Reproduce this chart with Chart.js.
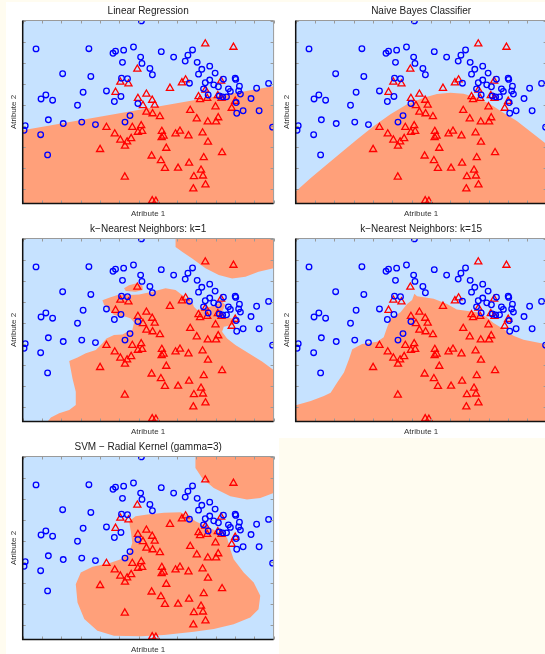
<!DOCTYPE html>
<html>
<head>
<meta charset="utf-8">
<script src="https://cdn.jsdelivr.net/npm/chart.js@4.4.1/dist/chart.umd.min.js"></script>
<style>
  html, body { margin: 0; padding: 0; }
  body { width: 545px; height: 654px; overflow: hidden; position: relative; background: #fffcf0; }
  .tile { position: absolute; width: 273px; height: 218px; background: #ffffff; }
  .tile canvas { display: block; }
</style>
</head>
<body>
<div class="tile" style="left:6px;top:2px"><canvas id="p1" width="273" height="218"></canvas></div>
<div class="tile" style="left:279px;top:2px"><canvas id="p2" width="273" height="218"></canvas></div>
<div class="tile" style="left:6px;top:220px"><canvas id="p3" width="273" height="218"></canvas></div>
<div class="tile" style="left:279px;top:220px"><canvas id="p4" width="273" height="218"></canvas></div>
<div class="tile" style="left:6px;top:438px"><canvas id="p5" width="273" height="218"></canvas></div>
<script>
// ---- observations: [attribute 1, attribute 2] ----
const classCircle = [
  [6.15, 7.98], [0.69, 6.65], [3.43, 6.66], [4.68, 6.44], [4.81, 6.54], [5.23, 6.59],
  [5.74, 6.74], [6.11, 6.26], [6.18, 5.96], [5.17, 6.01], [6.59, 5.72], [6.72, 5.42],
  [2.07, 5.47], [3.53, 5.34], [5.12, 5.26], [5.43, 5.23], [4.34, 4.65], [3.13, 4.59],
  [5.09, 4.39], [1.20, 4.46], [0.95, 4.27], [1.55, 4.21], [2.84, 3.97], [4.75, 4.15],
  [5.97, 4.05], [1.33, 3.28], [5.56, 3.48], [7.18, 6.52], [7.82, 6.26], [8.42, 6.07],
  [8.56, 6.35], [8.80, 6.60], [9.04, 6.01], [9.28, 5.68], [9.11, 5.45], [9.69, 5.83],
  [9.97, 5.50], [10.40, 5.21], [9.46, 5.04], [9.69, 5.17], [8.64, 5.02], [9.90, 4.94],
  [10.14, 4.85], [9.37, 4.75], [11.01, 5.26], [11.04, 5.20], [11.23, 4.88], [10.66, 4.75],
  [10.76, 4.63], [11.19, 4.65], [11.28, 4.50], [12.12, 4.78], [12.74, 5.01], [9.61, 4.46],
  [10.19, 4.41], [10.36, 4.37], [10.56, 4.37], [11.83, 4.29], [11.06, 4.10], [11.09, 3.59],
  [11.42, 3.71], [12.25, 3.71], [0.13, 3.00], [0.07, 2.78], [2.10, 3.10], [3.06, 3.17],
  [3.77, 3.05], [5.30, 3.17], [0.93, 2.57], [1.29, 1.61], [12.95, 2.93]
];
const classTriangle = [
  [9.46, 6.89], [10.92, 6.73], [5.94, 5.69], [5.06, 5.07], [5.48, 4.99], [4.81, 4.59],
  [6.41, 4.50], [5.97, 4.30], [6.71, 4.21], [6.23, 3.96], [6.41, 3.65], [6.73, 3.57],
  [7.11, 3.43], [6.84, 3.98], [7.63, 4.78], [8.25, 5.04], [8.44, 5.18], [9.11, 4.38],
  [9.19, 4.24], [9.47, 4.69], [9.56, 4.30], [10.28, 5.12], [10.11, 4.43], [10.30, 4.30],
  [11.01, 4.16], [8.68, 3.73], [9.99, 3.90], [10.83, 3.83], [9.02, 3.33], [9.59, 3.18],
  [10.02, 3.18], [10.13, 3.38], [4.34, 2.92], [4.77, 2.61], [5.06, 2.32], [5.30, 2.03],
  [5.41, 2.23], [5.62, 2.39], [5.68, 2.92], [6.14, 3.00], [5.97, 2.69], [6.19, 2.73],
  [4.01, 1.87], [6.68, 1.56], [7.21, 2.73], [7.30, 2.51], [7.20, 2.44], [7.92, 2.61],
  [8.15, 2.74], [8.59, 2.52], [9.32, 2.66], [9.60, 2.22], [7.44, 1.93], [7.16, 1.34],
  [7.37, 0.97], [8.05, 0.98], [8.62, 1.22], [9.38, 1.48], [10.33, 1.72], [9.24, 0.89],
  [8.87, 0.58], [9.34, 0.61], [9.47, 0.19], [8.84, 0.00], [5.29, 0.56], [6.71, -0.57],
  [6.90, -0.59]
];

// ---- axis extent and tick positions ----
const xRange = [0, 13];
const yRange = [-0.7, 8];
const xTickValues = [0, 1, 2, 3, 4, 5, 6, 7, 8, 9, 10, 11, 12, 13];
const yTickValues = [0, 1, 2, 3, 4, 5, 6, 7, 8];

// ---- decision regions (areas assigned to the triangle class) ----
const linearRegion = [
  [0, 2.78], [13, 4.88], [13, -0.7], [0, -0.7]
];
const bayesRegion = [
  [0, -0.13], [0.78, 0.51], [1.46, 1.04], [2.33, 1.70], [3.19, 2.35], [4.05, 2.98],
  [4.91, 3.54], [5.77, 4.02], [6.63, 4.33], [7.32, 4.50], [8.01, 4.57], [8.70, 4.52],
  [9.39, 4.33], [10.08, 4.02], [10.76, 3.62], [11.46, 3.22], [12.14, 2.74], [12.92, 2.18],
  [13, 2.15], [13, -0.7], [0, -0.7]
];
const knn1Main = [
  [1.29, -0.70], [1.46, -0.51], [1.89, -0.31], [2.41, -0.15], [2.75, 0.09], [2.75, 0.72],
  [2.58, 1.35], [2.41, 2.18], [2.84, 2.34], [3.27, 2.54], [3.79, 2.70], [4.13, 3.02],
  [4.34, 3.25], [4.73, 3.41], [5.17, 3.44], [5.42, 3.57], [5.68, 3.65], [5.77, 4.01],
  [5.60, 4.20], [5.34, 4.28], [4.99, 4.31], [4.73, 4.36], [4.48, 4.60], [4.22, 4.84],
  [4.13, 5.07], [4.48, 5.18], [4.99, 5.34], [5.51, 5.31], [6.03, 5.34], [6.71, 5.47],
  [7.40, 5.63], [7.92, 5.55], [8.26, 5.31], [8.52, 5.12], [8.78, 4.99], [8.87, 4.76],
  [9.04, 4.60], [9.47, 4.68], [9.99, 4.84], [10.33, 4.99], [10.50, 4.84], [10.33, 4.52],
  [10.50, 4.28], [10.85, 4.20], [11.19, 4.01], [10.85, 3.89], [10.42, 3.81], [10.33, 3.57],
  [10.59, 3.25], [11.02, 2.94], [11.71, 2.54], [12.40, 2.15], [13, 1.75], [13, -0.7]
];
const knn1Island = [
  [5.25, 5.63], [5.51, 5.78], [5.85, 5.86], [6.20, 5.78], [6.23, 5.55], [5.85, 5.47], [5.34, 5.50]
];
const knn1Corner = [
  [7.92, 8], [13, 8], [13, 6.58], [12.22, 6.42], [11.54, 6.18], [10.85, 6.10],
  [10.16, 6.26], [9.47, 6.58], [8.78, 7.05], [8.26, 7.37], [7.92, 7.60]
];
const knn15Region = [
  [0, 0.07], [0.78, 0.27], [1.46, 0.51], [1.81, 0.67], [2.15, 1.15], [2.50, 1.63],
  [2.76, 2.26], [2.93, 2.74], [3.44, 2.98], [4.22, 3.09], [4.56, 3.30], [4.74, 3.78],
  [4.91, 4.18], [5.43, 4.49], [5.77, 4.89], [6.03, 5.08], [6.15, 5.37], [6.29, 5.26],
  [7.15, 5.13], [7.84, 4.89], [8.35, 4.62], [9.39, 4.49], [9.90, 4.26], [10.25, 3.98],
  [10.76, 3.70], [11.28, 3.38], [11.80, 3.19], [12.92, 2.98], [13, 2.97], [13, -0.7], [0, -0.7]
];
const svmMain = [
  [5.51, 4.92], [5.85, 5.16], [6.46, 5.24], [7.32, 5.32], [8.18, 5.35], [8.61, 5.16],
  [8.95, 4.92], [9.47, 4.69], [10.07, 4.45], [10.59, 4.14], [10.76, 3.58], [10.93, 3.11],
  [11.45, 2.48], [11.97, 2.01], [12.31, 1.38], [12.22, 0.74], [11.79, 0.35], [10.93, 0.03],
  [9.90, -0.20], [8.87, -0.33], [7.32, -0.49], [6.11, -0.55], [4.73, -0.52], [3.87, -0.28],
  [3.19, 0.27], [2.84, 1.06], [2.75, 1.93], [3.01, 2.48], [3.62, 2.76], [4.48, 2.92],
  [5.08, 3.11], [5.51, 3.43], [5.68, 3.90], [5.60, 4.45]
];
const svmCorner = [
  [8.95, 8], [13, 8], [13, 6.27], [12.31, 6.03], [11.62, 5.95], [10.76, 6.11],
  [9.90, 6.50], [9.30, 6.97], [8.95, 7.45]
];

// ---- colours ----
const circleColor = '#0000ff';
const triangleColor = '#ff0000';
const otherAreaColor = '#c6e2ff';
const triangleAreaColor = '#ffa07a';
const fontFamily = '"Liberation Sans", Arial, Helvetica, sans-serif';

const toXY = (pts) => pts.map(([x, y]) => ({ x, y }));

// light-blue backdrop for the whole plotting region
const areaBackground = {
  id: 'areaBackground',
  beforeDatasetsDraw(chart) {
    const { ctx, chartArea: a } = chart;
    ctx.save();
    ctx.fillStyle = otherAreaColor;
    ctx.fillRect(a.left, a.top, a.right - a.left, a.bottom - a.top);
    ctx.restore();
  }
};

// box around the plot with short inward tick marks on every side
const frameTicks = {
  id: 'frameTicks',
  afterDatasetsDraw(chart) {
    const { ctx, chartArea: a, scales } = chart;
    const len = 3;
    ctx.save();
    ctx.strokeStyle = '#9a9a9a';
    ctx.lineWidth = 1;
    ctx.beginPath();
    xTickValues.forEach(v => {
      const px = Math.round(scales.x.getPixelForValue(v)) + 0.5;
      ctx.moveTo(px, a.bottom); ctx.lineTo(px, a.bottom - len);
      ctx.moveTo(px, a.top); ctx.lineTo(px, a.top + len);
    });
    yTickValues.forEach(v => {
      const py = Math.round(scales.y.getPixelForValue(v)) + 0.5;
      ctx.moveTo(a.left, py); ctx.lineTo(a.left + len, py);
      ctx.moveTo(a.right, py); ctx.lineTo(a.right - len, py);
    });
    ctx.stroke();
    ctx.beginPath();
    ctx.moveTo(a.left, a.top); ctx.lineTo(a.right, a.top);
    ctx.moveTo(a.right, a.top); ctx.lineTo(a.right, a.bottom);
    ctx.stroke();
    ctx.strokeStyle = '#111111';
    ctx.lineWidth = 1.5;
    ctx.beginPath();
    ctx.moveTo(a.left, a.top); ctx.lineTo(a.left, a.bottom); ctx.lineTo(a.right, a.bottom);
    ctx.stroke();
    ctx.restore();
  }
};

function regionDataset(poly) {
  return {
    data: toXY(poly),
    showLine: true,
    fill: 'shape',
    backgroundColor: triangleAreaColor,
    borderColor: 'rgba(0,0,0,0)',
    borderWidth: 0,
    pointRadius: 0,
    tension: 0,
    clip: 0
  };
}

function makePanel(id, title, regions) {
  const datasets = [
    {
      label: 'circle class',
      data: toXY(classCircle),
      pointStyle: 'circle',
      pointRadius: 2.8,
      borderWidth: 1.3,
      borderColor: circleColor,
      backgroundColor: 'rgba(0,0,0,0)',
      clip: 0
    },
    {
      label: 'triangle class',
      data: toXY(classTriangle),
      pointStyle: 'triangle',
      pointRadius: 4.1,
      borderWidth: 1.3,
      borderColor: triangleColor,
      backgroundColor: 'rgba(0,0,0,0)',
      clip: 0
    },
    ...regions.map(regionDataset)
  ];
  new Chart(document.getElementById(id), {
    type: 'scatter',
    data: { datasets },
    options: {
      responsive: false,
      animation: false,
      events: [],
      layout: { padding: { left: 0, right: 4.7, top: 0, bottom: 0 } },
      plugins: {
        legend: { display: false },
        tooltip: { enabled: false },
        title: {
          display: true,
          text: title,
          fullSize: false,
          color: '#222222',
          font: { family: fontFamily, size: 10, weight: 'normal', lineHeight: 1.2 },
          padding: { top: 3, bottom: 3.5 }
        }
      },
      scales: {
        x: {
          type: 'linear',
          min: xRange[0], max: xRange[1],
          grid: { display: false, drawTicks: false },
          border: { display: false },
          ticks: { display: false },
          title: {
            display: true, text: 'Atribute 1', color: '#333333',
            font: { family: fontFamily, size: 8, lineHeight: 1.2 },
            padding: { top: 5, bottom: 1.9 }
          }
        },
        y: {
          type: 'linear',
          min: yRange[0], max: yRange[1],
          grid: { display: false, drawTicks: false },
          border: { display: false },
          ticks: { display: false },
          title: {
            display: true, text: 'Atribute 2', color: '#333333',
            font: { family: fontFamily, size: 8, lineHeight: 1.2 },
            padding: { top: 3.2, bottom: 3.9 }
          }
        }
      }
    },
    plugins: [areaBackground, frameTicks]
  });
}

makePanel('p1', 'Linear Regression', [linearRegion]);
makePanel('p2', 'Naive Bayes Classifier', [bayesRegion]);
makePanel('p3', 'k\u2212Nearest Neighbors: k=1', [knn1Main, knn1Island, knn1Corner]);
makePanel('p4', 'k\u2212Nearest Neighbors: k=15', [knn15Region]);
makePanel('p5', 'SVM \u2212 Radial Kernel (gamma=3)', [svmMain, svmCorner]);
</script>
</body>
</html>
